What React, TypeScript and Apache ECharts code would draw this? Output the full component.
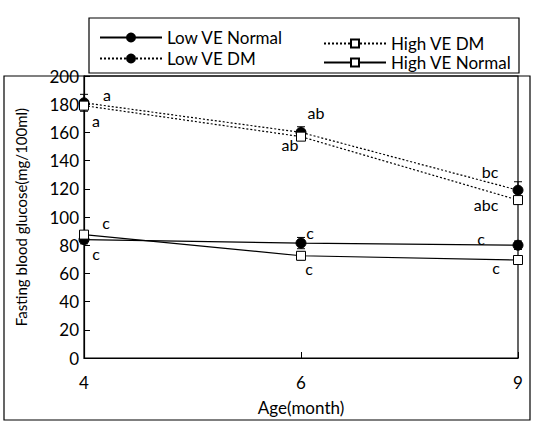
import React, { useEffect, useRef } from "react";
import * as echarts from "echarts";

const ages = ["4", "6", "9"];
const lowVENormal = [84, 81.5, 80];
const lowVEDM = [181, 160, 119];
const highVEDM = [179, 157, 112];
const highVENormal = [87.5, 72.5, 69.5];

const lowVENormalErr = [3, 4, 3];
const lowVEDMErr = [6, 4, 6];
const highVEDMErr = [3, 2, 3];
const highVENormalErr = [2, 3, 2];

const lowVENormalLetters = ["c", "c", "c"];
const lowVEDMLetters = ["a", "ab", "bc"];
const highVEDMLetters = ["a", "ab", "abc"];
const highVENormalLetters = ["c", "c", "c"];

const yTicks = { min: 0, max: 200, interval: 20 };

const FONT = "Lato, 'Open Sans', sans-serif";

export default function App() {
  const ref = useRef<HTMLDivElement>(null);

  useEffect(() => {
    if (!ref.current) return;
    document.body.style.margin = "0";
    const chart = echarts.init(ref.current, null, { renderer: "svg" });

    const withLabels = (vals: number[], letters: string[], offsets: number[][]) =>
      vals.map((v, i) => ({
        value: v,
        label: {
          show: true,
          position: "inside",
          offset: offsets[i],
          formatter: letters[i],
          color: "#000",
          fontSize: 16,
          fontFamily: FONT,
        },
      }));

    const errSeries = (vals: number[], errs: number[]) => ({
      type: "custom",
      silent: true,
      z: 1,
      data: vals.map((v, i) => [i, v, errs[i]]),
      renderItem: (params: any, api: any) => {
        const x = api.value(0);
        const v = api.value(1);
        const e = api.value(2);
        const top = api.coord([x, v + e]);
        const bot = api.coord([x, v - e]);
        const style = { stroke: "#000", lineWidth: 1 };
        return {
          type: "group",
          children: [
            { type: "line", shape: { x1: top[0], y1: top[1], x2: bot[0], y2: bot[1] }, style },
            { type: "line", shape: { x1: top[0] - 4, y1: top[1], x2: top[0] + 4, y2: top[1] }, style },
            { type: "line", shape: { x1: bot[0] - 4, y1: bot[1], x2: bot[0] + 4, y2: bot[1] }, style },
          ],
        };
      },
    });

    const filled = { color: "#000", borderColor: "#000", borderWidth: 1 };
    const open = { color: "#fff", borderColor: "#000", borderWidth: 1 };

    chart.setOption({
      animation: false,
      textStyle: { fontFamily: FONT, color: "#000" },
      graphic: [
        {
          type: "rect",
          shape: { x: 89, y: 18, width: 430, height: 55 },
          style: { fill: "none", stroke: "#000", lineWidth: 1.2 },
        },
        {
          type: "rect",
          shape: { x: 4, y: 76, width: 526, height: 344 },
          style: { fill: "none", stroke: "#000", lineWidth: 1.2 },
        },
      ],
      legend: [
        {
          orient: "vertical",
          left: 94,
          top: 24,
          itemWidth: 62,
          itemHeight: 10,
          itemGap: 4,
          data: ["Low VE Normal", "Low VE DM"],
          textStyle: { fontSize: 17, color: "#000", fontFamily: FONT },
        },
        {
          orient: "vertical",
          left: 318,
          top: 30,
          itemWidth: 62,
          itemHeight: 10,
          itemGap: 2,
          data: ["High VE DM", "High VE Normal"],
          textStyle: { fontSize: 17, color: "#000", fontFamily: FONT },
        },
      ],
      grid: {
        left: 84,
        right: 19,
        top: 76,
        bottom: 72,
        show: true,
        borderColor: "#000",
        borderWidth: 1.2,
        backgroundColor: "transparent",
      },
      xAxis: {
        type: "category",
        data: ages,
        boundaryGap: false,
        name: "Age(month)",
        nameLocation: "middle",
        nameGap: 41,
        nameTextStyle: { fontSize: 17, color: "#000", fontFamily: FONT },
        axisLine: { lineStyle: { color: "#000", width: 1.2 } },
        axisTick: { inside: true, length: 6, lineStyle: { color: "#000" } },
        axisLabel: { fontSize: 17, color: "#000", margin: 16, fontFamily: FONT },
        splitLine: { show: false },
      },
      yAxis: {
        type: "value",
        min: yTicks.min,
        max: yTicks.max,
        interval: yTicks.interval,
        name: "Fasting blood glucose(mg/100ml)",
        nameLocation: "middle",
        nameGap: 56,
        nameTextStyle: { fontSize: 15, color: "#000", fontFamily: FONT },
        axisLine: { show: true, lineStyle: { color: "#000", width: 1.2 } },
        axisTick: { show: true, inside: true, length: 6, lineStyle: { color: "#000" } },
        axisLabel: { fontSize: 17, color: "#000", margin: 5, fontFamily: FONT },
        splitLine: { show: false },
      },
      series: [
        errSeries(lowVENormal, lowVENormalErr),
        errSeries(lowVEDM, lowVEDMErr),
        errSeries(highVEDM, highVEDMErr),
        errSeries(highVENormal, highVENormalErr),
        {
          name: "Low VE Normal",
          type: "line",
          z: 3,
          symbol: "circle",
          symbolSize: 10,
          lineStyle: { color: "#000", width: 1.2, type: "solid" },
          itemStyle: filled,
          data: withLabels(lowVENormal, lowVENormalLetters, [[12, 14], [9, -11], [-37, -7]]),
        },
        {
          name: "Low VE DM",
          type: "line",
          z: 3,
          symbol: "circle",
          symbolSize: 10,
          lineStyle: { color: "#000", width: 1.2, type: [2, 2] },
          itemStyle: filled,
          data: withLabels(lowVEDM, lowVEDMLetters, [[23, -8], [15, -20], [-28, -19]]),
        },
        {
          name: "High VE DM",
          type: "line",
          z: 4,
          symbol: "rect",
          symbolSize: 9,
          lineStyle: { color: "#000", width: 1.2, type: [2, 2] },
          itemStyle: open,
          data: withLabels(highVEDM, highVEDMLetters, [[12, 15], [-11, 8], [-32, 4]]),
        },
        {
          name: "High VE Normal",
          type: "line",
          z: 4,
          symbol: "rect",
          symbolSize: 9,
          lineStyle: { color: "#000", width: 1.2, type: "solid" },
          itemStyle: open,
          data: withLabels(highVENormal, highVENormalLetters, [[22, -12], [8, 13], [-22, 7]]),
        },
      ],
    });

    return () => chart.dispose();
  }, []);

  return <div ref={ref} style={{ width: 537, height: 430 }} />;
}
